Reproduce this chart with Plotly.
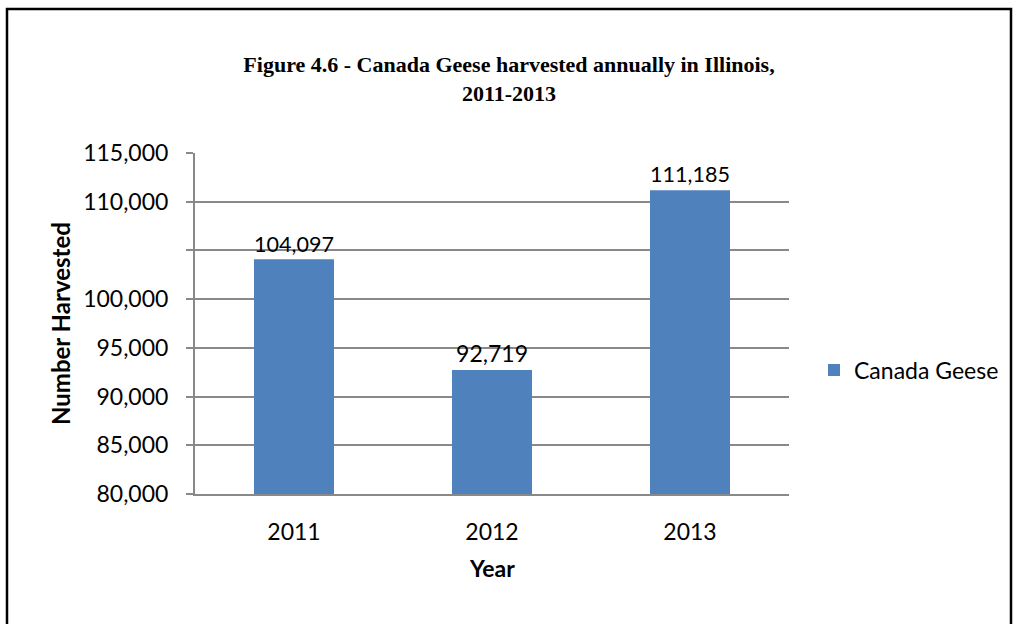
import plotly.graph_objects as go

# Chart data
years = ["2011", "2012", "2013"]
harvested = [104097, 92719, 111185]
series_name = "Canada Geese"
y_ticks = [80000, 85000, 90000, 95000, 100000, 105000, 110000, 115000]
y_tick_labels = ["80,000", "85,000", "90,000", "95,000", "100,000", "", "110,000", "115,000"]

W, H = 1018, 624
PLOT_L, PLOT_R, PLOT_T, PLOT_B = 195, 789, 153, 494
PW, PH = PLOT_R - PLOT_L, PLOT_B - PLOT_T


def px_to_paper_x(px):
    return (px - PLOT_L) / PW


def px_to_paper_y(py):
    return (PLOT_B - py) / PH


GRID = "#898989"
BAR = "#4F81BD"
SANS = "Lato, 'Open Sans', sans-serif"
FS = 23

fig = go.Figure()
fig.add_trace(go.Bar(
    x=years,
    y=harvested,
    name=series_name,
    marker=dict(color=BAR, line=dict(width=0)),
    text=[f"{v:,}" for v in harvested],
    textposition="outside",
    textfont=dict(family=SANS, size=FS, color="#000000"),
    cliponaxis=False,
    showlegend=True,
))

fig.update_layout(
    width=W,
    height=H,
    margin=dict(l=PLOT_L, r=W - PLOT_R, t=PLOT_T, b=H - PLOT_B, pad=0),
    paper_bgcolor="white",
    plot_bgcolor="white",
    bargap=0.596,
    font=dict(family=SANS, size=FS, color="#000000"),
    title=dict(
        text="<b>Figure 4.6 - Canada Geese harvested annually in Illinois,<br>2011-2013</b>",
        font=dict(family="'Liberation Serif', 'Times New Roman', serif", size=22, color="#000000"),
        xref="container", yref="container",
        x=509 / W, y=1 - 72 / H,
        xanchor="center", yanchor="middle",
    ),
    showlegend=True,
    legend=dict(
        x=px_to_paper_x(814), y=px_to_paper_y(370),
        xanchor="left", yanchor="middle",
        font=dict(family=SANS, size=FS, color="#000000"),
        bgcolor="rgba(0,0,0,0)",
        borderwidth=0,
    ),
    xaxis=dict(
        type="category",
        showgrid=False,
        showline=True,
        linecolor=GRID,
        linewidth=2,
        ticks="",
        ticklabelstandoff=16,
        tickfont=dict(family=SANS, size=FS, color="#000000"),
    ),
    yaxis=dict(
        range=[80000, 115000],
        tickvals=y_ticks,
        ticktext=y_tick_labels,
        showgrid=True,
        gridcolor=GRID,
        gridwidth=2,
        showline=True,
        linecolor=GRID,
        linewidth=2,
        ticks="outside",
        ticklen=7,
        tickcolor=GRID,
        tickwidth=2,
        ticklabelstandoff=13,
        zeroline=False,
        tickfont=dict(family=SANS, size=FS, color="#000000"),
    ),
    annotations=[
        dict(
            text="<b>Number Harvested</b>",
            xref="paper", yref="paper",
            x=px_to_paper_x(60), y=px_to_paper_y(324),
            xanchor="center", yanchor="middle",
            textangle=-90, showarrow=False,
            font=dict(family=SANS, size=24, color="#000000"),
        ),
        dict(
            text="<b>Year</b>",
            xref="paper", yref="paper",
            x=0.5, y=px_to_paper_y(568),
            xanchor="center", yanchor="middle",
            showarrow=False,
            font=dict(family=SANS, size=FS, color="#000000"),
        ),
    ],
    shapes=[
        dict(
            type="rect",
            xref="paper", yref="paper",
            x0=px_to_paper_x(7), x1=px_to_paper_x(1011),
            y0=px_to_paper_y(660), y1=px_to_paper_y(9),
            line=dict(color="#000000", width=2.5),
            fillcolor="rgba(0,0,0,0)",
            layer="above",
        ),
    ],
)

fig.write_html("out.html")
